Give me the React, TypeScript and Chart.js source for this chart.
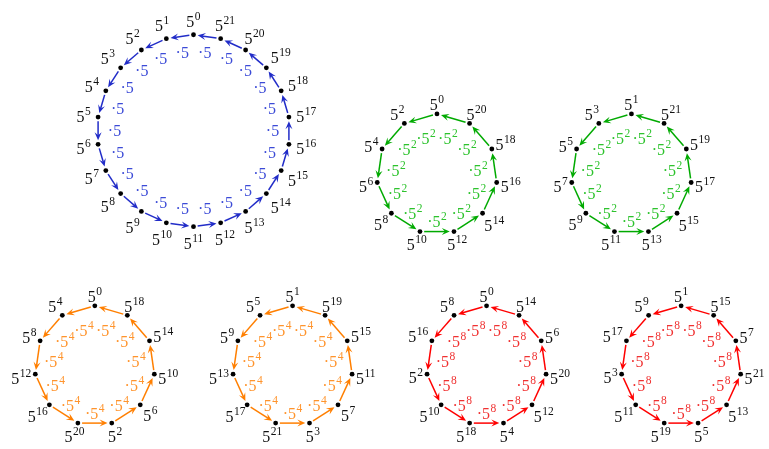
import React, { useEffect, useRef } from "react";
import { Chart, registerables } from "chart.js";

Chart.register(...registerables);

// ---- data: exponents of 5 around each cycle (counter-clockwise from the top) ----
const BASE = "5";
const blueCycle = [0, 1, 2, 3, 4, 5, 6, 7, 8, 9, 10, 11, 12, 13, 14, 15, 16, 17, 18, 19, 20, 21];
const greenCycleA = [0, 2, 4, 6, 8, 10, 12, 14, 16, 18, 20];
const greenCycleB = [1, 3, 5, 7, 9, 11, 13, 15, 17, 19, 21];
const orangeCycleA = [0, 4, 8, 12, 16, 20, 2, 6, 10, 14, 18];
const orangeCycleB = [1, 5, 9, 13, 17, 21, 3, 7, 11, 15, 19];
const redCycleA = [0, 8, 16, 2, 10, 18, 4, 12, 20, 6, 14];
const redCycleB = [1, 9, 17, 3, 11, 19, 5, 13, 21, 7, 15];
// multiplier exponent on each arrow
const blueStep = "";
const greenStep = "2";
const orangeStep = "4";
const redStep = "8";

// ---- layout / styles ----
const W = 769;
const H = 449;
const FONT = '"Liberation Serif", "DejaVu Serif", serif';
const BASE_PX = 16;
const SUP_PX = 11.5;
const SUP_RAISE = 7;

type Circle = {
  cycle: number[];
  step: string;
  cx: number;
  cy: number;
  r: number;
  line: string;
  text: string;
  gap: number;
  inner: number;
  innerBias: number;
};

const blueStyle = { line: "rgb(33,44,200)", text: "rgb(60,75,215)" };
const greenStyle = { line: "rgb(0,170,0)", text: "rgb(45,195,45)" };
const orangeStyle = { line: "rgb(255,127,0)", text: "rgb(255,148,45)" };
const redStyle = { line: "rgb(255,0,0)", text: "rgb(240,50,50)" };

const circles: Circle[] = [
  { cycle: blueCycle, step: blueStep, cx: 192.3, cy: 129.7, r: 97, ...blueStyle, gap: 7.5, inner: 79, innerBias: 0 },
  { cycle: greenCycleA, step: greenStep, cx: 437.3, cy: 173.4, r: 60.7, ...greenStyle, gap: 4, inner: 42, innerBias: 3.5 },
  { cycle: greenCycleB, step: greenStep, cx: 633, cy: 173.4, r: 60.7, ...greenStyle, gap: 4, inner: 42, innerBias: 3.5 },
  { cycle: orangeCycleA, step: orangeStep, cx: 93, cy: 367.2, r: 60.5, ...orangeStyle, gap: 4, inner: 42, innerBias: 3.5 },
  { cycle: orangeCycleB, step: orangeStep, cx: 292, cy: 367.2, r: 60.5, ...orangeStyle, gap: 4, inner: 42, innerBias: 3.5 },
  { cycle: redCycleA, step: redStep, cx: 487.2, cy: 367.2, r: 60.5, ...redStyle, gap: 4, inner: 42, innerBias: 3.5 },
  { cycle: redCycleB, step: redStep, cx: 683, cy: 367.2, r: 60.5, ...redStyle, gap: 4, inner: 42, innerBias: 3.5 },
];

const angleOf = (i: number, n: number) => Math.PI / 2 + (i * 2 * Math.PI) / n;

function measureRich(ctx: CanvasRenderingContext2D, base: string, sup: string) {
  ctx.font = `${BASE_PX}px ${FONT}`;
  const wb = ctx.measureText(base).width;
  ctx.font = `${SUP_PX}px ${FONT}`;
  const ws = sup ? ctx.measureText(sup).width + 0.5 : 0;
  const h = sup ? 15 : 10.5;
  return { wb, ws, w: wb + ws, h };
}

// draw with box centre at (x, y)
function drawRich(ctx: CanvasRenderingContext2D, x: number, y: number, base: string, sup: string, color: string) {
  const m = measureRich(ctx, base, sup);
  const left = x - m.w / 2;
  const baseline = y + m.h / 2;
  ctx.fillStyle = color;
  ctx.textAlign = "left";
  ctx.textBaseline = "alphabetic";
  ctx.font = `${BASE_PX}px ${FONT}`;
  ctx.fillText(base, left, baseline);
  if (sup) {
    ctx.font = `${SUP_PX}px ${FONT}`;
    ctx.fillText(sup, left + m.wb + 0.5, baseline - SUP_RAISE);
  }
}

const cyclePlugin = {
  id: "cyclePlugin",
  beforeDatasetsDraw(chart: any) {
    const ctx: CanvasRenderingContext2D = chart.ctx;
    const xs = chart.scales.x;
    const ys = chart.scales.y;
    ctx.save();
    circles.forEach((c, di) => {
      const meta = chart.getDatasetMeta(di);
      const pts = meta.data.map((p: any) => ({ x: p.x, y: p.y }));
      const n = pts.length;
      const cx = xs.getPixelForValue(c.cx);
      const cy = ys.getPixelForValue(c.cy);
      // arrows
      for (let i = 0; i < n; i++) {
        const a = pts[i];
        const b = pts[(i + 1) % n];
        const dx = b.x - a.x;
        const dy = b.y - a.y;
        const len = Math.hypot(dx, dy);
        const ux = dx / len;
        const uy = dy / len;
        const nx = -uy;
        const ny = ux;
        const g = 4.2;
        const sx = a.x + ux * g;
        const sy = a.y + uy * g;
        const ex = b.x - ux * g;
        const ey = b.y - uy * g;
        const L = 8;
        const Wd = 3.5;
        ctx.strokeStyle = c.line;
        ctx.lineWidth = 1.5;
        ctx.beginPath();
        ctx.moveTo(sx, sy);
        ctx.lineTo(ex - ux * L * 0.5, ey - uy * L * 0.5);
        ctx.stroke();
        ctx.fillStyle = c.line;
        ctx.beginPath();
        ctx.moveTo(ex, ey);
        ctx.lineTo(ex - ux * L + nx * Wd, ey - uy * L + ny * Wd);
        ctx.lineTo(ex - ux * L * 0.6, ey - uy * L * 0.6);
        ctx.lineTo(ex - ux * L - nx * Wd, ey - uy * L - ny * Wd);
        ctx.closePath();
        ctx.fill();
        // inner multiplier label
        const th = angleOf(i + 0.5, n);
        const d = c.inner - c.innerBias * Math.sin(th);
        drawRich(ctx, cx + d * Math.cos(th), cy - d * Math.sin(th), "\u00b7" + BASE, c.step, c.text);
      }
      // outer point labels
      for (let i = 0; i < n; i++) {
        const th = angleOf(i, n);
        const ux = Math.cos(th);
        const uy = -Math.sin(th);
        const sup = String(c.cycle[i]);
        const m = measureRich(ctx, BASE, sup);
        const tx = Math.abs(ux) > 1e-6 ? m.w / 2 / Math.abs(ux) : Infinity;
        const ty = Math.abs(uy) > 1e-6 ? m.h / 2 / Math.abs(uy) : Infinity;
        const t = Math.min(tx, ty) + c.gap;
        drawRich(ctx, pts[i].x + ux * t, pts[i].y + uy * t, BASE, sup, "#111");
      }
    });
    ctx.restore();
  },
};

export default function App() {
  const ref = useRef<HTMLCanvasElement | null>(null);
  useEffect(() => {
    document.body.style.margin = "0";
    const canvas = ref.current!;
    const datasets = circles.map((c) => ({
      data: c.cycle.map((_, i) => {
        const th = angleOf(i, c.cycle.length);
        return { x: c.cx + c.r * Math.cos(th), y: c.cy - c.r * Math.sin(th) };
      }),
      pointRadius: 2.4,
      pointHoverRadius: 2.4,
      pointBackgroundColor: "#000",
      pointBorderWidth: 0,
      showLine: false,
      clip: false as any,
    }));
    const chart = new Chart(canvas, {
      type: "scatter",
      data: { datasets },
      options: {
        responsive: false,
        animation: false,
        events: [],
        layout: { padding: 0 },
        plugins: { legend: { display: false }, tooltip: { enabled: false } },
        scales: {
          x: { type: "linear", min: 0, max: W, display: false },
          y: { type: "linear", min: 0, max: H, reverse: true, display: false },
        },
      },
      plugins: [cyclePlugin],
    });
    return () => chart.destroy();
  }, []);
  return (
    <div style={{ position: "absolute", left: 0, top: 0, width: W, height: H, background: "#fff" }}>
      <canvas ref={ref} width={W} height={H} style={{ width: W, height: H, display: "block" }} />
    </div>
  );
}
